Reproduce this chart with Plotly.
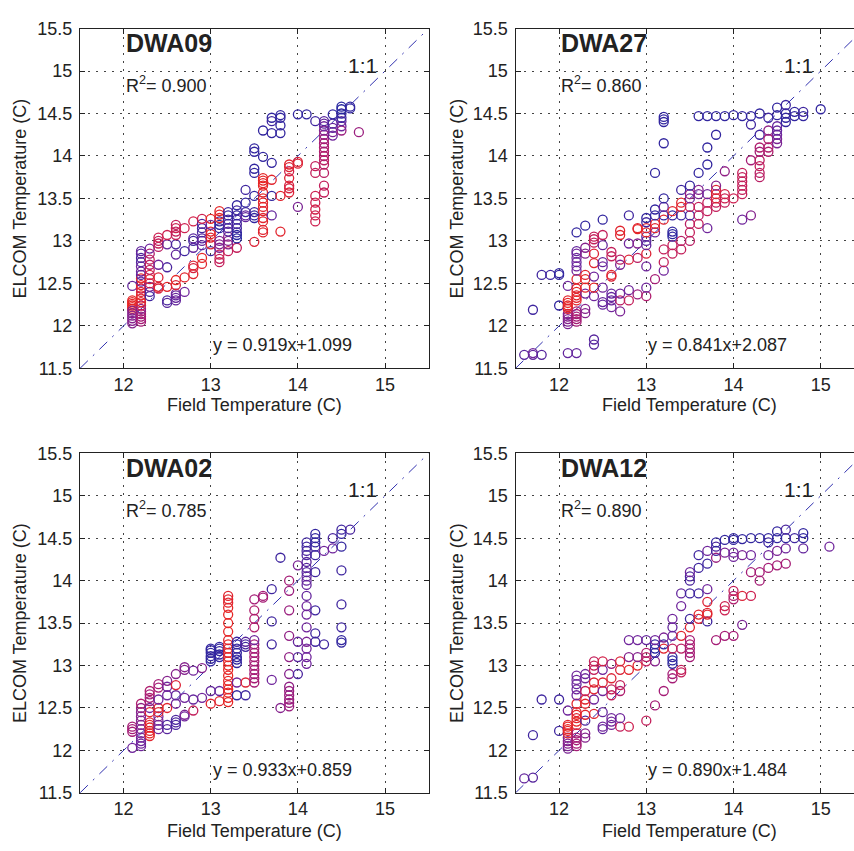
import plotly.graph_objects as go

# ---------------- data (field temp, ELCOM temp, colour index 0=red .. 1=blue) -------------
DWA09 = [
    (12.1,12.20,0),(12.1,12.22,0),(12.1,12.24,0),(12.1,12.26,0),(12.1,12.28,0),(12.1,12.30,0),
    (12.1,12.03,.6),(12.1,12.06,.6),(12.1,12.09,.6),(12.1,12.12,.6),(12.1,12.15,.6),(12.1,12.18,.6),(12.1,12.47,.75),
    (12.2,12.05,.45),(12.2,12.08,.45),(12.2,12.11,.45),(12.2,12.14,.45),(12.2,12.17,.45),(12.2,12.20,.6),(12.2,12.24,.3),
    (12.2,12.28,.05),(12.2,12.32,.05),(12.2,12.36,0),(12.2,12.40,.1),(12.2,12.44,.2),(12.2,12.48,.05),(12.2,12.52,.75),
    (12.2,12.56,0),(12.2,12.60,.8),(12.2,12.64,.7),(12.2,12.70,.7),(12.2,12.75,.8),(12.2,12.80,.85),(12.2,12.85,.8),(12.2,12.88,.75),
    (12.3,12.35,.9),(12.3,12.40,.85),(12.3,12.46,.7),(12.3,12.50,.25),(12.3,12.55,.05),(12.3,12.60,.15),(12.3,12.66,.3),
    (12.3,12.72,.35),(12.3,12.78,.3),(12.3,12.85,.4),(12.3,12.91,.7),
    (12.4,12.44,.15),(12.4,12.46,.05),(12.4,12.57,.1),(12.4,12.93,.35),(12.4,12.97,.3),(12.4,13.00,.3),(12.4,13.04,.25),(12.4,12.72,.7),
    (12.5,12.27,.8),(12.5,12.30,.85),(12.5,12.46,.05),(12.5,12.69,.85),(12.5,12.96,.75),(12.5,13.07,.25),
    (12.6,12.30,.75),(12.6,12.33,.75),(12.6,12.36,.75),(12.6,12.38,.7),(12.6,12.48,.1),(12.6,12.54,0),(12.6,12.84,.75),
    (12.6,12.96,.85),(12.6,13.07,.3),(12.6,13.11,.3),(12.6,13.15,.25),(12.6,13.19,.3),
    (12.7,12.40,.7),(12.7,12.57,.05),(12.7,12.88,.9),(12.7,13.15,.25),
    (12.8,12.61,.05),(12.8,12.68,.15),(12.8,12.71,.1),(12.8,12.92,.75),(12.8,13.00,.9),(12.8,13.03,.8),(12.8,13.23,.2),
    (12.9,12.73,.05),(12.9,12.80,0),(12.9,12.95,.75),(12.9,13.00,.75),(12.9,13.03,.8),(12.9,13.10,.85),(12.9,13.15,.9),
    (12.9,13.20,.85),(12.9,13.26,.25),
    (13.0,12.88,.9),(13.0,12.96,.05),(13.0,13.04,.05),(13.0,13.08,0),(13.0,13.11,.05),(13.0,13.19,.7),(13.0,13.26,0),
    (13.1,12.75,.3),(13.1,12.79,.3),(13.1,12.84,.25),(13.1,12.92,.6),(13.1,12.96,.6),(13.1,13.00,.65),(13.1,13.15,.95),
    (13.1,13.19,1),(13.1,13.23,.95),(13.1,13.27,.05),(13.1,13.31,.05),(13.1,13.35,0),
    (13.2,12.88,.3),(13.2,12.96,.6),(13.2,13.00,.6),(13.2,13.05,.55),(13.2,13.11,.8),(13.2,13.15,.85),(13.2,13.20,.8),
    (13.2,13.25,.9),(13.2,13.30,.95),(13.2,13.34,.9),
    (13.3,12.92,.3),(13.3,13.03,1),(13.3,13.07,1),(13.3,13.10,.95),(13.3,13.15,.9),(13.3,13.20,.85),(13.3,13.25,.9),
    (13.3,13.30,.95),(13.3,13.36,.9),(13.3,13.42,.95),
    (13.4,13.28,.75),(13.4,13.30,.75),(13.4,13.34,.9),(13.4,13.45,.95),(13.4,13.60,.9),
    (13.5,12.99,.1),(13.5,13.27,.95),(13.5,13.30,.95),(13.5,13.34,.9),(13.5,13.53,.95),(13.5,13.80,.95),(13.5,13.85,.95),
    (13.5,14.05,.95),(13.5,14.09,.95),
    (13.6,13.10,.05),(13.6,13.13,.05),(13.6,13.23,.05),(13.6,13.27,.05),(13.6,13.35,.05),(13.6,13.40,.05),(13.6,13.45,.05),
    (13.6,13.50,0),(13.6,13.57,.05),(13.6,13.65,0),(13.6,13.68,0),(13.6,13.71,0),(13.6,13.74,0),(13.6,13.99,.95),(13.6,14.30,.95),
    (13.7,13.30,.75),(13.7,13.53,.95),(13.7,13.72,.05),(13.7,13.92,.95),(13.7,14.27,.95),(13.7,14.41,.9),(13.7,14.45,.95),
    (13.8,13.11,.05),(13.8,13.53,.05),(13.8,14.27,.95),(13.8,14.36,.95),(13.8,14.45,.95),(13.8,14.48,.95),
    (13.9,13.57,.1),(13.9,13.62,.15),(13.9,13.65,.15),(13.9,13.74,.1),(13.9,13.82,.2),(13.9,13.87,.1),(13.9,13.90,.05),
    (14.0,13.40,.65),(14.0,13.91,.1),(14.0,13.93,.1),(14.0,14.49,.95),
    (14.1,14.49,.95),
    (14.2,13.23,.25),(14.2,13.30,.25),(14.2,13.37,.2),(14.2,13.45,.25),(14.2,13.53,.25),(14.2,13.80,.3),(14.2,13.88,.3),(14.2,14.41,.9),
    (14.3,13.57,.3),(14.3,13.65,.3),(14.3,13.80,.35),(14.3,13.90,.35),(14.3,13.95,.35),(14.3,14.00,.4),(14.3,14.05,.4),
    (14.3,14.10,.4),(14.3,14.15,.45),(14.3,14.20,.45),(14.3,14.25,.5),(14.3,14.30,.6),(14.3,14.35,.7),(14.3,14.38,.75),(14.3,14.41,.8),
    (14.4,14.24,.7),(14.4,14.28,.65),(14.4,14.33,.75),(14.4,14.38,.85),(14.4,14.49,.95),
    (14.5,14.30,.5),(14.5,14.35,.7),(14.5,14.41,.75),(14.5,14.45,.9),(14.5,14.50,.95),(14.5,14.55,1),(14.5,14.58,1),
    (14.6,14.56,.95),(14.6,14.58,.95),
    (14.7,14.28,.5),
]

DWA27 = [
    (11.6,11.66,.8),(11.7,11.66,.75),(11.7,11.68,.7),(11.7,12.19,.9),(11.8,11.66,.8),(11.8,12.60,.9),(11.9,12.60,.9),
    (12.0,12.60,.95),(12.0,12.62,.95),(12.0,12.24,.95),
    (12.1,11.68,.75),(12.1,12.02,.65),(12.1,12.05,.65),(12.1,12.08,.6),(12.1,12.11,.6),(12.1,12.14,.6),(12.1,12.20,.05),
    (12.1,12.22,0),(12.1,12.24,0),(12.1,12.27,0),(12.1,12.30,.05),(12.1,12.47,.7),
    (12.2,11.68,.75),(12.2,12.05,.45),(12.2,12.08,.45),(12.2,12.11,.45),(12.2,12.14,.45),(12.2,12.17,.4),(12.2,12.30,.05),
    (12.2,12.33,.05),(12.2,12.36,.05),(12.2,12.40,0),(12.2,12.44,.05),(12.2,12.55,.05),(12.2,12.65,.7),(12.2,12.70,.7),
    (12.2,12.75,.75),(12.2,12.80,.7),(12.2,12.85,.7),(12.2,12.88,.75),(12.2,13.10,.95),
    (12.3,12.15,.6),(12.3,12.20,.6),(12.3,12.38,.7),(12.3,12.45,.05),(12.3,12.55,0),(12.3,12.60,.05),(12.3,12.85,.6),
    (12.3,12.92,.6),(12.3,13.18,.95),
    (12.4,11.78,.8),(12.4,11.84,.8),(12.4,12.35,.7),(12.4,12.45,0),(12.4,12.58,.7),(12.4,12.74,.05),(12.4,12.85,.1),
    (12.4,12.98,.3),(12.4,13.02,.3),(12.4,13.05,.3),
    (12.5,12.25,.75),(12.5,12.28,.75),(12.5,12.45,.7),(12.5,12.70,.7),(12.5,12.75,.75),(12.5,12.95,.75),(12.5,13.07,.3),(12.5,13.25,.95),
    (12.6,12.22,.7),(12.6,12.30,.75),(12.6,12.34,.75),(12.6,12.38,.75),(12.6,12.58,.1),(12.6,12.60,.05),(12.6,12.82,.3),(12.6,12.87,.3),
    (12.7,12.17,.65),(12.7,12.30,.35),(12.7,12.38,.7),(12.7,12.72,.65),(12.7,12.78,.35),(12.7,13.07,.05),(12.7,13.12,.05),
    (12.8,12.30,.3),(12.8,12.42,.7),(12.8,12.78,.1),(12.8,12.97,.7),(12.8,13.30,.9),
    (12.9,12.37,.5),(12.9,12.80,.35),(12.9,12.97,.6),(12.9,13.14,0),(12.9,13.15,.05),
    (13.0,12.35,.4),(13.0,12.45,.7),(13.0,12.70,.7),(13.0,12.85,.1),(13.0,12.95,.75),(13.0,13.00,.8),(13.0,13.05,.8),
    (13.0,13.10,0),(13.0,13.15,.05),(13.0,13.22,.9),(13.0,13.27,.95),
    (13.1,12.55,.45),(13.1,13.10,.7),(13.1,13.15,.05),(13.1,13.20,.05),(13.1,13.30,.95),(13.1,13.37,.95),(13.1,13.80,.95),
    (13.2,12.65,.7),(13.2,12.75,.3),(13.2,12.90,.3),(13.2,13.25,.05),(13.2,13.30,.95),(13.2,13.40,.75),(13.2,13.50,.95),
    (13.2,14.15,.95),(13.2,14.40,.95),(13.2,14.43,.95),(13.2,14.46,.95),
    (13.3,12.85,.3),(13.3,12.95,.3),(13.3,13.05,.95),(13.3,13.08,1),(13.3,13.11,.95),(13.3,13.30,.95),(13.3,13.35,.05),
    (13.4,12.90,.3),(13.4,13.00,.35),(13.4,13.30,.9),(13.4,13.40,.05),(13.4,13.45,.05),(13.4,13.60,.9),
    (13.5,13.00,.35),(13.5,13.10,.3),(13.5,13.20,.35),(13.5,13.30,.9),(13.5,13.40,.3),(13.5,13.50,.7),(13.5,13.55,.5),(13.5,13.65,.95),
    (13.6,13.20,.3),(13.6,13.30,.35),(13.6,13.40,.3),(13.6,13.55,.65),(13.6,13.60,.6),(13.6,13.80,.95),(13.6,14.47,.95),
    (13.7,13.15,.7),(13.7,13.35,.3),(13.7,13.45,.3),(13.7,13.55,.7),(13.7,13.90,.95),(13.7,14.10,.95),(13.7,14.47,.95),
    (13.8,13.40,.3),(13.8,13.45,.3),(13.8,13.50,.1),(13.8,13.55,.05),(13.8,13.60,.1),(13.8,13.65,.6),(13.8,14.25,.95),(13.8,14.47,.95),
    (13.9,13.45,.3),(13.9,13.50,.25),(13.9,13.55,.2),(13.9,13.82,.55),(13.9,14.47,.95),
    (14.0,13.50,.25),(14.0,14.48,.95),
    (14.1,13.25,.7),(14.1,13.55,.3),(14.1,13.60,.3),(14.1,13.65,.3),(14.1,13.70,.3),(14.1,13.75,.3),(14.1,13.80,.3),(14.1,14.47,.95),
    (14.2,13.30,.6),(14.2,13.95,.45),(14.2,14.37,.9),(14.2,14.47,.95),
    (14.3,13.75,.35),(14.3,13.80,.35),(14.3,13.88,.3),(14.3,13.95,.35),(14.3,14.05,.45),(14.3,14.10,.4),(14.3,14.25,.9),(14.3,14.50,.95),
    (14.4,14.05,.4),(14.4,14.10,.4),(14.4,14.20,.4),(14.4,14.30,.55),(14.4,14.45,.9),
    (14.5,14.15,.65),(14.5,14.20,.65),(14.5,14.25,.7),(14.5,14.30,.75),(14.5,14.35,.75),(14.5,14.48,.95),(14.5,14.57,.95),
    (14.6,14.40,.95),(14.6,14.45,.95),(14.6,14.50,.95),(14.6,14.60,.9),
    (14.7,14.47,.95),(14.7,14.52,.95),(14.8,14.47,.95),(14.8,14.52,.9),(15.0,14.55,.95),
]

DWA02 = [
    (12.1,12.03,.7),(12.1,12.22,.45),(12.1,12.25,.45),(12.1,12.28,.45),
    (12.2,12.05,.7),(12.2,12.08,.7),(12.2,12.11,.7),(12.2,12.15,.7),(12.2,12.20,.65),(12.2,12.25,.65),(12.2,12.30,.6),
    (12.2,12.35,.6),(12.2,12.40,.6),(12.2,12.45,.6),(12.2,12.50,.55),(12.2,12.55,.4),
    (12.3,12.17,.05),(12.3,12.20,0),(12.3,12.23,.05),(12.3,12.27,0),(12.3,12.30,.05),(12.3,12.33,.05),(12.3,12.45,.05),
    (12.3,12.50,.7),(12.3,12.58,.45),(12.3,12.62,.45),(12.3,12.66,.45),(12.3,12.70,.4),
    (12.4,12.25,.7),(12.4,12.30,.7),(12.4,12.35,.7),(12.4,12.40,.65),(12.4,12.45,.05),(12.4,12.50,.05),(12.4,12.60,.7),
    (12.4,12.74,.45),(12.4,12.78,.45),
    (12.5,12.25,.8),(12.5,12.30,.85),(12.5,12.50,.05),(12.5,12.65,.7),(12.5,12.75,.7),(12.5,12.82,.6),
    (12.6,12.30,.85),(12.6,12.33,.85),(12.6,12.36,.85),(12.6,12.55,.7),(12.6,12.65,.75),(12.6,12.77,.1),(12.6,12.90,.6),
    (12.7,12.40,.7),(12.7,12.42,.65),(12.7,12.62,.7),(12.7,12.95,.6),(12.7,12.98,.6),
    (12.8,12.47,.3),(12.8,12.60,.75),(12.8,12.94,.7),
    (12.9,12.62,.7),(12.9,12.97,.6),
    (13.0,12.55,.05),(13.0,12.70,.75),(13.0,13.05,.95),(13.0,13.08,.95),(13.0,13.11,.95),(13.0,13.15,.95),(13.0,13.18,.95),(13.0,13.20,.95),
    (13.1,12.58,.05),(13.1,12.70,.75),(13.1,13.10,.95),(13.1,13.13,.95),(13.1,13.17,.95),(13.1,13.20,.95),(13.1,13.22,.95),
    (13.2,12.57,0),(13.2,12.62,0),(13.2,12.68,0),(13.2,12.72,0),(13.2,12.77,0),(13.2,12.82,0),(13.2,12.88,0),(13.2,12.95,0),
    (13.2,13.00,0),(13.2,13.05,0),(13.2,13.10,0),(13.2,13.15,0),(13.2,13.20,0),(13.2,13.25,0),(13.2,13.30,.05),(13.2,13.40,0),
    (13.2,13.50,0),(13.2,13.60,0),(13.2,13.68,0),(13.2,13.74,.05),(13.2,13.78,.05),(13.2,13.82,.05),
    (13.3,12.65,.95),(13.3,12.80,.7),(13.3,13.03,.95),(13.3,13.07,.95),(13.3,13.10,.95),(13.3,13.15,.95),(13.3,13.20,.95),
    (13.3,13.25,.95),(13.3,13.28,.9),
    (13.4,12.65,.9),(13.4,12.80,.1),(13.4,13.22,.9),(13.4,13.25,.85),(13.4,13.28,.8),
    (13.5,12.80,.45),(13.5,12.85,.45),(13.5,12.90,.45),(13.5,12.95,.45),(13.5,13.00,.45),(13.5,13.05,.45),(13.5,13.10,.45),
    (13.5,13.15,.45),(13.5,13.20,.45),(13.5,13.25,.45),(13.5,13.30,.7),(13.5,13.45,.4),(13.5,13.55,.4),(13.5,13.65,.4),(13.5,13.78,.45),
    (13.6,13.80,.45),(13.6,13.82,.45),
    (13.7,12.83,.7),(13.7,13.25,.9),(13.7,13.52,.9),(13.7,13.90,.9),
    (13.8,12.50,.6),(13.8,14.27,.9),
    (13.9,12.52,.5),(13.9,12.56,.5),(13.9,12.60,.5),(13.9,12.65,.5),(13.9,12.70,.5),(13.9,12.75,.55),(13.9,12.90,.6),
    (13.9,13.10,.55),(13.9,13.35,.55),(13.9,13.65,.5),(13.9,13.88,.5),(13.9,14.00,.45),
    (14.0,12.90,.85),(14.0,13.10,.8),(14.0,13.28,.75),(14.0,14.18,.65),
    (14.1,13.02,.7),(14.1,13.10,.7),(14.1,13.20,.7),(14.1,13.28,.65),(14.1,13.45,.7),(14.1,13.60,.7),(14.1,13.70,.7),
    (14.1,13.82,.75),(14.1,13.95,.75),(14.1,14.00,.75),(14.1,14.05,.75),(14.1,14.10,.8),(14.1,14.15,.8),(14.1,14.22,.8),
    (14.1,14.30,.85),(14.1,14.35,.85),(14.1,14.40,.9),(14.1,14.45,.9),
    (14.2,13.28,.9),(14.2,13.38,.9),(14.2,13.65,.9),(14.2,14.10,.9),(14.2,14.30,.9),(14.2,14.40,.9),(14.2,14.45,.95),
    (14.2,14.50,.95),(14.2,14.55,.95),
    (14.3,13.25,.9),(14.3,14.35,.7),
    (14.4,14.38,.7),(14.4,14.50,.85),
    (14.5,13.27,.95),(14.5,13.30,.95),(14.5,13.45,.9),(14.5,13.72,.9),(14.5,14.12,.9),(14.5,14.40,.95),(14.5,14.55,.95),(14.5,14.60,.9),
    (14.6,14.60,.85),
]

DWA12 = [
    (11.6,11.67,.75),(11.7,11.68,.8),(11.7,12.18,.9),(11.8,12.60,.9),(12.0,12.60,.9),(12.0,12.23,.9),
    (12.1,12.02,.65),(12.1,12.05,.65),(12.1,12.08,.6),(12.1,12.11,.6),(12.1,12.15,.6),(12.1,12.20,.05),(12.1,12.23,0),
    (12.1,12.25,0),(12.1,12.28,0),(12.1,12.30,.05),(12.1,12.47,.7),
    (12.2,12.05,.45),(12.2,12.08,.45),(12.2,12.12,.45),(12.2,12.15,.45),(12.2,12.20,.45),(12.2,12.30,.05),(12.2,12.34,0),
    (12.2,12.38,.05),(12.2,12.42,0),(12.2,12.45,.05),(12.2,12.55,.05),(12.2,12.65,.7),(12.2,12.72,.7),(12.2,12.78,.75),
    (12.2,12.83,.7),(12.2,12.88,.7),
    (12.3,12.15,.6),(12.3,12.20,.6),(12.3,12.35,.85),(12.3,12.42,.05),(12.3,12.55,.05),(12.3,12.60,.05),(12.3,12.70,.3),
    (12.3,12.85,.7),(12.3,12.90,.7),
    (12.4,12.43,.05),(12.4,12.60,.7),(12.4,12.72,.05),(12.4,12.80,.1),(12.4,12.95,.3),(12.4,13.00,.3),(12.4,13.05,.3),
    (12.5,12.25,.75),(12.5,12.28,.7),(12.5,12.45,.75),(12.5,12.70,.7),(12.5,12.80,.1),(12.5,12.95,.7),(12.5,13.05,.2),
    (12.6,12.30,.7),(12.6,12.34,.7),(12.6,12.38,.7),(12.6,12.65,.3),(12.6,12.72,.3),(12.6,12.85,.1),(12.6,13.02,.5),
    (12.7,12.28,.3),(12.7,12.38,.7),(12.7,12.70,.4),(12.7,12.77,.3),(12.7,12.95,.1),(12.7,13.05,.1),
    (12.8,12.28,.25),(12.8,12.95,.05),(12.8,13.10,.6),(12.8,13.30,.7),
    (12.9,13.00,.05),(12.9,13.10,.6),(12.9,13.30,.7),
    (13.0,12.35,.3),(13.0,13.05,.3),(13.0,13.10,.35),(13.0,13.15,.4),(13.0,13.30,.75),
    (13.1,12.53,.45),(13.1,13.05,.6),(13.1,13.15,.95),(13.1,13.20,1),(13.1,13.25,.95),(13.1,13.30,.7),
    (13.2,12.70,.45),(13.2,13.20,.05),(13.2,13.25,.95),(13.2,13.33,.65),
    (13.3,12.85,.45),(13.3,12.90,.45),(13.3,13.02,.95),(13.3,13.06,1),(13.3,13.10,.95),(13.3,13.20,.3),(13.3,13.35,.7),
    (13.3,13.45,.75),(13.3,13.55,.7),
    (13.4,12.92,.3),(13.4,12.95,.3),(13.4,13.20,.35),(13.4,13.35,.05),(13.4,13.70,.7),(13.4,13.85,.75),
    (13.5,13.10,.45),(13.5,13.15,.45),(13.5,13.20,.45),(13.5,13.25,.4),(13.5,13.30,.45),(13.5,13.45,.05),(13.5,13.55,.9),
    (13.5,13.85,.9),(13.5,14.00,.85),(13.5,14.05,.85),(13.5,14.10,.7),
    (13.6,13.55,.1),(13.6,13.60,.05),(13.6,13.85,.9),(13.6,14.15,.9),(13.6,14.30,.9),
    (13.7,13.52,.9),(13.7,13.60,.05),(13.7,13.62,.05),(13.7,13.75,.1),(13.7,13.90,.7),(13.7,14.20,.9),(13.7,14.35,.7),
    (13.8,13.30,.45),(13.8,14.27,.5),(13.8,14.35,.9),(13.8,14.40,.85),(13.8,14.45,.95),
    (13.9,13.35,.45),(13.9,13.65,.25),(13.9,13.70,.25),(13.9,14.33,.65),(13.9,14.48,.95),
    (14.0,13.35,.45),(14.0,13.78,.4),(14.0,13.82,.4),(14.0,13.88,.3),(14.0,14.28,.7),(14.0,14.33,.7),(14.0,14.48,.95),(14.0,14.50,.95),
    (14.1,13.48,.65),(14.1,13.82,.1),(14.1,14.30,.65),(14.1,14.49,.95),
    (14.2,13.82,.25),(14.2,14.10,.45),(14.2,14.30,.7),(14.2,14.50,.95),
    (14.3,14.00,.45),(14.3,14.10,.45),(14.3,14.50,.95),
    (14.4,14.15,.45),(14.4,14.30,.7),(14.4,14.45,.9),(14.4,14.50,.95),
    (14.5,14.18,.45),(14.5,14.35,.65),(14.5,14.50,.95),(14.5,14.58,.95),
    (14.6,14.20,.45),(14.6,14.38,.7),(14.6,14.50,.95),(14.6,14.60,.85),
    (14.7,14.50,.9),(14.8,14.38,.75),(14.8,14.50,.95),(14.8,14.56,.95),(15.1,14.40,.7),
]

SITES = ["DWA09", "DWA27", "DWA02", "DWA12"]
R2_TEXT = ["0.900", "0.860", "0.785", "0.890"]
FIT_TEXT = ["y = 0.919x+1.099", "y = 0.841x+2.087", "y = 0.933x+0.859", "y = 0.890x+1.484"]
POINTS = [DWA09, DWA27, DWA02, DWA12]
ONE_TO_ONE = [11.5, 15.5]
X_TICKS = [12, 13, 14, 15]
Y_TICKS = [11.5, 12, 12.5, 13, 13.5, 14, 14.5, 15, 15.5]
Y_TICKTEXT = ["11.5", "12", "12.5", "13", "13.5", "14", "14.5", "15", "15.5"]

# ---------------- figure -------------
W, H = 854, 851
FONT = "Liberation Sans, Arial, sans-serif"
TXT = "#222222"
COLORSCALE = [[0, "rgb(230,38,38)"], [0.25, "rgb(205,32,80)"], [0.45, "rgb(165,28,118)"],
              [0.7, "rgb(112,38,156)"], [1, "rgb(38,38,160)"]]

# pixel geometry
xdom_left = [80 / W, 428.6 / W]
xdom_right = [515.5 / W, 1.0]
right_xmax = 11.5 + (W - 515.5) / 87.2
ydom_top = [1 - 367 / H, 1 - 19 / H]
ydom_bot = [1 - 801.7 / H, 1 - 454 / H]

fig = go.Figure()
layout_axes = {}
annotations = []

for i, (site, pts) in enumerate(zip(SITES, POINTS)):
    n = i + 1
    xa = "x" if n == 1 else f"x{n}"
    ya = "y" if n == 1 else f"y{n}"
    is_right = i % 2 == 1
    is_top = i < 2
    xs = [p[0] for p in pts]
    ys = [p[1] for p in pts]
    cs = [p[2] for p in pts]

    fig.add_trace(go.Scatter(
        x=ONE_TO_ONE, y=ONE_TO_ONE, mode="lines", xaxis=xa, yaxis=ya, showlegend=False,
        line=dict(color="rgb(50,50,175)", width=1, dash="11px,7px,2px,7px"),
        hoverinfo="skip"))
    fig.add_trace(go.Scatter(
        x=xs, y=ys, mode="markers", xaxis=xa, yaxis=ya, showlegend=False,
        marker=dict(symbol="circle-open", size=9, color=cs, colorscale=COLORSCALE,
                    cmin=0, cmax=1, line=dict(width=1.3)),
        hoverinfo="skip"))

    common = dict(showgrid=True, gridcolor="#444444", griddash="2px,6px", gridwidth=1,
                  zeroline=False, showline=True, linecolor="#222222", linewidth=1,
                  ticks="inside", ticklen=5, tickcolor="#222222",
                  tickfont=dict(family=FONT, size=18, color=TXT))
    xkey = "xaxis" if n == 1 else f"xaxis{n}"
    ykey = "yaxis" if n == 1 else f"yaxis{n}"
    layout_axes[xkey] = dict(common, domain=xdom_right if is_right else xdom_left,
                             range=[11.5, right_xmax if is_right else 15.5],
                             tickvals=X_TICKS, ticktext=[str(t) for t in X_TICKS],
                             anchor=ya, mirror="ticks", ticklabelstandoff=0)
    layout_axes[ykey] = dict(common, domain=ydom_top if is_top else ydom_bot,
                             range=[11.5, 15.5], tickvals=Y_TICKS, ticktext=Y_TICKTEXT,
                             anchor=xa, mirror=False if is_right else "ticks",
                             ticklabelstandoff=3)

    f = dict(family=FONT, color=TXT)
    annotations += [
        dict(x=12.0, y=15.33, xref=xa, yref=ya, text=f"<b>{site}</b>", showarrow=False,
             xanchor="left", yanchor="middle", font=dict(f, size=25)),
        dict(x=12.0, y=14.84, xref=xa, yref=ya, text=f"R<sup>2</sup>= {R2_TEXT[i]}", showarrow=False,
             xanchor="left", yanchor="middle", font=dict(f, size=18)),
        dict(x=14.93, y=15.07, xref=xa, yref=ya, text="1:1", showarrow=False,
             xanchor="right", yanchor="middle", font=dict(f, size=21)),
        dict(x=13.0, y=11.77, xref=xa, yref=ya, text=FIT_TEXT[i], showarrow=False,
             xanchor="left", yanchor="middle", font=dict(f, size=18)),
        dict(x=13.5, y=(405 if is_top else 841), xref=xa, yref="paper",
             text="Field Temperature (C)", showarrow=False, xanchor="center", yanchor="middle",
             font=dict(f, size=18)),
        dict(x=((457 if is_right else 20) / W), y=13.5, xref="paper", yref=ya,
             text="ELCOM Temperature (C)", textangle=-90, showarrow=False,
             xanchor="center", yanchor="middle", font=dict(f, size=18)),
    ]

# convert x-title pixel y to paper
for a in annotations:
    if a.get("yref") == "paper":
        a["y"] = 1 - a["y"] / H

fig.update_layout(width=W, height=H, margin=dict(l=0, r=0, t=0, b=0),
                  paper_bgcolor="white", plot_bgcolor="white",
                  annotations=annotations, **layout_axes)

fig.write_html("out.html")
